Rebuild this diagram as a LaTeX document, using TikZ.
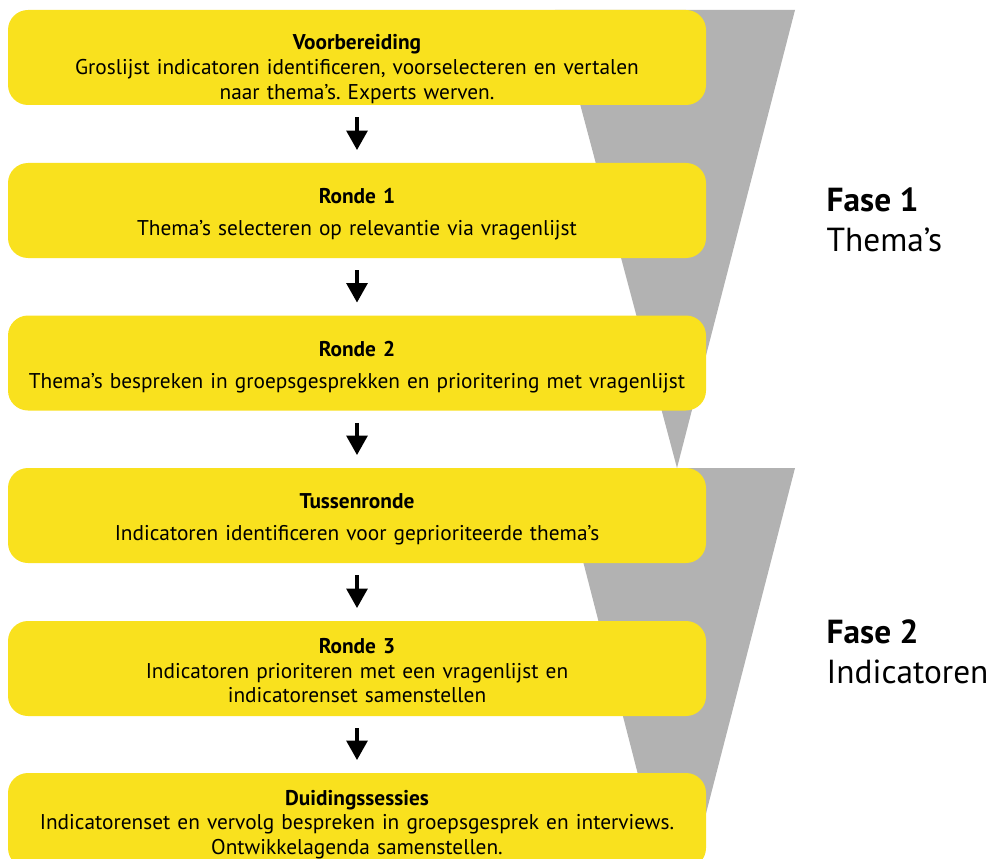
\documentclass[tikz,border=0pt]{standalone}
\usepackage{fontspec}
\setmainfont{PT Sans}
\usepackage{tikz}
\usetikzlibrary{arrows.meta, positioning, calc}

\definecolor{stepyellow}{RGB}{249,225,30}
\definecolor{funnelgray}{RGB}{178,178,178}
\newcommand{\topgap}[1]{\rule{0pt}{#1}}
\frenchspacing

\begin{document}
\begin{tikzpicture}[x=0.75pt, y=-0.75pt, align=center,
    stage/.style={fill=stepyellow, rounded corners=15pt, minimum width=523.5pt, minimum height=71.25pt,
        inner sep=0pt, font=\fontsize{16}{18.5}\selectfont, text width=515pt},
    arrow/.style={-{Triangle[width=15.5pt, length=14.5pt]}, line width=2.6pt, shorten <=9pt, shorten >=9.5pt},
    phase/.style={anchor=west, align=left, font=\fontsize{25}{30}\selectfont}
]
    \useasboundingbox (0,0) rectangle (995,859);

    % funnels behind the stages
    \fill[funnelgray] (555,10) -- (795,10) -- (677,468) -- cycle;
    \fill[funnelgray] (559,468) -- (795,468) -- (677,926) -- cycle;

    \node[stage] (voorb) at (357,57.5) {\topgap{28.5pt}\textbf{Voorbereiding}\\Groslijst indicatoren identificeren, voorselecteren en vertalen\\naar thema’s. Experts werven.};
    \node[stage] (ronde1) at (357,210.5) {\topgap{17.5pt}\textbf{Ronde 1}\\[5.5pt]Thema’s selecteren op relevantie via vragenlijst};
    \node[stage] (ronde2) at (357,363) {\topgap{17.5pt}\textbf{Ronde 2}\\[5.5pt]Thema’s bespreken in groepsgesprekken en prioritering met vragenlijst};
    \node[stage] (tussen) at (357,515.5) {\topgap{17.5pt}\textbf{Tussenronde}\\[5.5pt]Indicatoren identificeren voor geprioriteerde thema’s};
    \node[stage] (ronde3) at (357,668.5) {\topgap{14.5pt}\textbf{Ronde 3}\\Indicatoren prioriteren met een vragenlijst en\\indicatorenset samenstellen};
    \node[stage] (duiding) at (357,820.5) {\topgap{17.5pt}\textbf{Duidingssessies}\\Indicatorenset en vervolg bespreken in groepsgesprek en interviews.\\Ontwikkelagenda samenstellen.};

    \draw[arrow] (voorb.south) -- (ronde1.north);
    \draw[arrow] (ronde1.south) -- (ronde2.north);
    \draw[arrow] (ronde2.south) -- (tussen.north);
    \draw[arrow] (tussen.south) -- (ronde3.north);
    \draw[arrow] (ronde3.south) -- (duiding.north);

    \node[phase] (fase1) at (822,220) {\textbf{Fase 1}\\Thema’s};
    \node[phase] (fase2) at (822,652) {\textbf{Fase 2}\\Indicatoren};
\end{tikzpicture}
\end{document}
